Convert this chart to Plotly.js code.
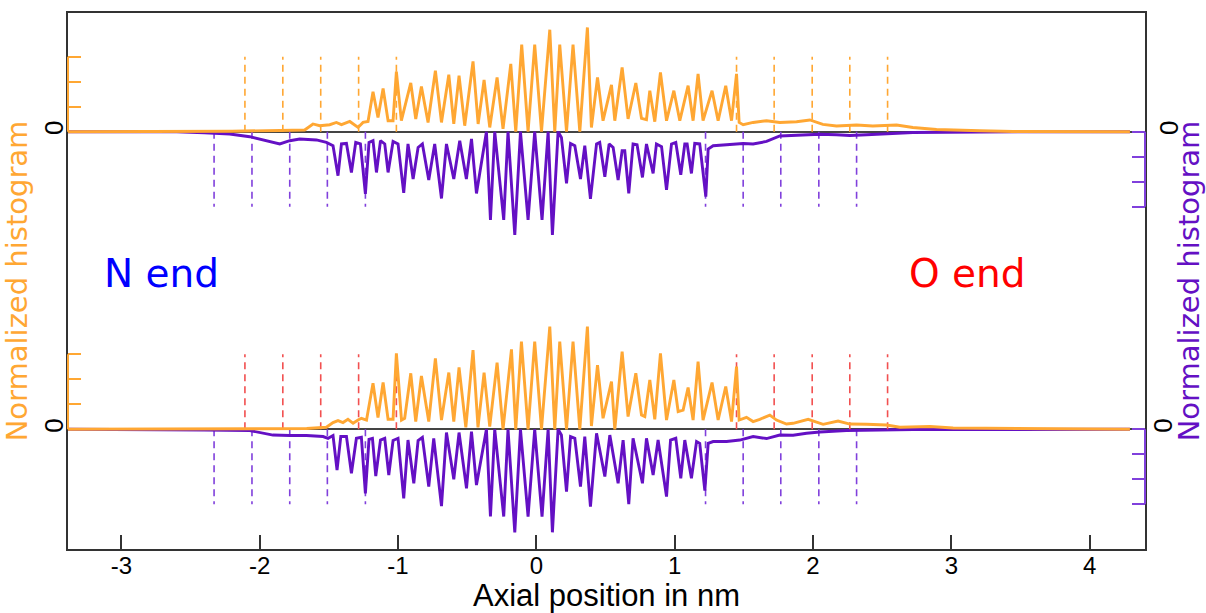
<!DOCTYPE html>
<html>
<head>
<meta charset="utf-8">
<script src="https://cdn.plot.ly/plotly-3.0.1.min.js"></script>
<style>html,body{margin:0;padding:0;background:#fff;}#chart{width:1206px;height:613px;}</style>
</head>
<body>
<div id="chart"></div>
<script>
// ---- data (x in nm, y in axis tick units) ----
const xTicks = [-3, -2, -1, 0, 1, 2, 3, 4];
const xTickText = ['-3', '-2', '-1', '0', '1', '2', '3', '4'];
const histTicks = [0, 1, 2, 3];
const histTickText = ['0', '', '', ''];

const orangeTop = [
[-3.39,0],[-2.5,0],[-2.2,0.02],[-1.855,0.05],[-1.675,0.07],[-1.615,0.31],[-1.566,0.24],[-1.494,0.28],
[-1.446,0.37],[-1.409,0.28],[-1.349,0.41],[-1.289,0.17],[-1.253,0.37],[-1.217,0.41],[-1.181,1.60],
[-1.145,0.57],[-1.108,1.73],[-1.072,0.44],[-1.036,0.44],[-1.012,2.40],[-0.976,0.44],[-0.908,1.95],
[-0.872,0.51],[-0.831,1.81],[-0.783,0.37],[-0.730,2.44],[-0.686,0.37],[-0.633,2.28],[-0.597,0.31],
[-0.559,2.24],[-0.518,0.24],[-0.458,2.81],[-0.421,0.31],[-0.378,2.07],[-0.337,0.17],[-0.284,2.17],
[-0.241,0.11],[-0.185,2.71],[-0.149,0],[-0.106,3.48],[-0.060,0],[-0.012,3.48],[0.037,0],[0.097,4.08],
[0.133,0],[0.169,3.48],[0.218,0],[0.265,3.48],[0.314,0],[0.369,4.17],[0.398,0.17],[0.442,2.17],
[0.482,0.44],[0.543,1.87],[0.567,0.44],[0.620,2.57],[0.663,0.51],[0.719,1.95],[0.760,0.53],[0.796,0.48],
[0.820,1.64],[0.856,0.40],[0.897,2.37],[0.941,0.44],[0.994,1.64],[1.037,0.44],[1.097,1.84],[1.133,0.44],
[1.169,2.31],[1.205,0.44],[1.270,1.64],[1.314,0.44],[1.369,1.84],[1.411,0.44],[1.447,2.31],[1.466,0.37],
[1.495,0.28],[1.567,0.37],[1.664,0.44],[1.760,0.37],[1.881,0.40],[1.977,0.47],[2.071,0.29],[2.170,0.23],
[2.315,0.27],[2.432,0.23],[2.604,0.27],[2.722,0.17],[2.893,0.09],[3.206,0.04],[3.445,0.01],[4.291,0]
];

const purpleTop = [
[-3.39,0],[-2.6,0],[-2.4,0.04],[-2.217,0.09],[-2.072,0.20],[-1.855,0.49],[-1.783,0.36],[-1.711,0.29],
[-1.590,0.33],[-1.518,0.43],[-1.470,0.56],[-1.434,1.76],[-1.409,0.49],[-1.373,0.47],[-1.337,1.63],
[-1.306,0.43],[-1.272,0.49],[-1.236,2.49],[-1.210,0.43],[-1.181,0.36],[-1.156,1.63],[-1.127,0.36],
[-1.096,0.49],[-1.072,1.63],[-1.036,0.39],[-1.000,0.49],[-0.959,2.45],[-0.928,0.49],[-0.891,1.89],
[-0.855,0.63],[-0.824,0.49],[-0.778,1.93],[-0.735,0.49],[-0.686,2.67],[-0.650,0.49],[-0.597,1.89],
[-0.554,0.36],[-0.506,1.89],[-0.469,0.29],[-0.433,2.47],[-0.361,0],[-0.332,3.53],[-0.301,0],[-0.236,3.53],
[-0.205,0],[-0.156,4.13],[-0.115,0],[-0.060,3.53],[-0.012,0],[0.041,3.53],[0.085,0],[0.116,4.13],
[0.157,0],[0.181,0.23],[0.218,2.07],[0.247,0.47],[0.278,0.56],[0.319,1.89],[0.350,0.56],[0.391,2.69],
[0.435,0.49],[0.458,0.43],[0.495,1.80],[0.526,0.49],[0.555,0.63],[0.591,1.93],[0.620,0.76],[0.639,0.76],
[0.668,2.47],[0.699,0.49],[0.728,0.52],[0.767,1.83],[0.796,0.49],[0.844,1.67],[0.868,0.49],[0.905,0.60],
[0.941,2.33],[0.977,0.49],[1.008,0.43],[1.044,1.72],[1.073,0.49],[1.090,0.49],[1.121,1.67],[1.145,0.47],
[1.181,0.49],[1.225,2.60],[1.242,0.69],[1.278,0.56],[1.375,0.52],[1.495,0.47],[1.567,0.49],[1.664,0.39],
[1.760,0.17],[1.905,0.13],[2.049,0.10],[2.170,0.12],[2.266,0.15],[2.387,0.12],[2.555,0.07],[2.722,0.03],
[3.206,0.01],[4.291,0]
];

const orangeBot = [
[-3.39,0],[-1.9,0],[-1.66,0.03],[-1.518,0.08],[-1.470,0.27],[-1.434,0.35],[-1.398,0.27],[-1.362,0.40],
[-1.325,0.24],[-1.289,0.37],[-1.265,0.44],[-1.228,0.37],[-1.181,1.84],[-1.145,0.47],[-1.108,1.87],
[-1.072,0.40],[-1.036,0.40],[-1.012,3.04],[-0.975,0.37],[-0.952,0.44],[-0.908,2.24],[-0.872,0.31],
[-0.831,2.13],[-0.778,0.31],[-0.730,2.84],[-0.686,0.37],[-0.633,2.27],[-0.597,0.31],[-0.559,2.48],
[-0.510,0.08],[-0.458,3.17],[-0.422,0.08],[-0.378,2.27],[-0.337,0.11],[-0.284,2.67],[-0.241,0],
[-0.180,3.20],[-0.149,0],[-0.108,3.51],[-0.060,0],[-0.012,3.51],[0.037,0],[0.097,4.11],[0.133,0],
[0.169,3.51],[0.218,0],[0.265,3.51],[0.314,0],[0.369,4.11],[0.398,0.13],[0.442,2.57],[0.482,0.44],
[0.543,1.91],[0.567,0],[0.620,3.11],[0.663,0.51],[0.719,2.24],[0.760,0.57],[0.784,0.51],[0.820,1.97],
[0.856,0.40],[0.897,3.04],[0.941,0.37],[0.994,1.97],[1.025,0.71],[1.061,0.77],[1.097,1.67],[1.133,0.37],
[1.169,2.71],[1.205,0.37],[1.270,1.87],[1.314,0.37],[1.369,1.71],[1.411,0.31],[1.447,2.51],[1.466,0.37],
[1.519,0.48],[1.567,0.31],[1.615,0.40],[1.688,0.57],[1.736,0.37],[1.808,0.21],[1.856,0.24],[1.965,0.40],
[2.073,0.20],[2.181,0.33],[2.266,0.21],[2.387,0.20],[2.531,0.17],[2.628,0.08],[2.845,0.11],[3.013,0.05],
[3.447,0.03],[4.291,0]
];

const purpleBot = [
[-3.39,0],[-2.8,0],[-2.4,0.03],[-2.072,0.05],[-1.904,0.23],[-1.783,0.25],[-1.662,0.25],[-1.542,0.29],
[-1.506,0.36],[-1.470,0.25],[-1.441,1.63],[-1.414,0.29],[-1.373,0.29],[-1.337,1.76],[-1.301,0.36],
[-1.265,0.32],[-1.236,2.56],[-1.210,0.40],[-1.185,0.36],[-1.161,1.87],[-1.127,0.43],[-1.096,0.36],
[-1.067,1.83],[-1.036,0.45],[-1.000,0.36],[-0.959,2.76],[-0.928,0.43],[-0.886,2.16],[-0.855,0.45],
[-0.824,0.32],[-0.778,2.29],[-0.742,0.36],[-0.686,3.07],[-0.650,0.13],[-0.597,2.00],[-0.559,0.13],
[-0.505,2.36],[-0.469,0.09],[-0.433,2.23],[-0.361,0],[-0.332,3.49],[-0.301,0],[-0.236,3.49],[-0.205,0],
[-0.156,4.12],[-0.115,0],[-0.060,3.49],[-0.012,0],[0.041,3.49],[0.085,0],[0.116,4.12],[0.157,0],
[0.181,0.23],[0.218,2.49],[0.247,0.29],[0.278,0.36],[0.319,2.29],[0.350,0.29],[0.391,3.09],[0.435,0.16],
[0.495,1.89],[0.531,0.23],[0.591,2.16],[0.627,0.43],[0.668,2.99],[0.699,0.36],[0.767,2.16],[0.796,0.36],
[0.844,1.83],[0.880,0.43],[0.941,2.69],[0.970,0.43],[1.008,0.36],[1.044,1.96],[1.073,0.43],[1.121,1.96],
[1.158,0.49],[1.181,0.56],[1.218,2.45],[1.242,0.56],[1.278,0.49],[1.375,0.49],[1.471,0.43],[1.567,0.29],
[1.664,0.37],[1.760,0.23],[1.856,0.24],[1.953,0.16],[2.049,0.11],[2.242,0.05],[2.387,0.03],[2.724,0.01],
[4.291,0]
];

const dashOrangeX = [-2.107, -1.833, -1.559, -1.285, -1.012, 1.447, 1.719, 1.994, 2.266, 2.539];
const dashPurpleX = [-2.330, -2.056, -1.783, -1.511, -1.236, 1.223, 1.495, 1.767, 2.042, 2.315];
const dashHeight = 3;

// ---- styles ----
const ORANGE = '#FFA733';
const PURPLE = '#6410C4';
const PURPLE_LIGHT = '#8040DC';
const RED = '#F25050';
const FRAME = '#333333';

function xs(a){ return a.map(p => p[0]); }
function ys(a){ return a.map(p => p[1]); }
function dashes(xv, h){
  const X = [], Y = [];
  xv.forEach(v => { X.push(v, v, null); Y.push(0, h, null); });
  return {X, Y};
}

const dO = dashes(dashOrangeX, dashHeight);
const dP = dashes(dashPurpleX, dashHeight);
const dashStyle = '7px,5px';
const LW = 2.9;

// axes: y = top purple (base), y2 = bottom purple, y3 = top orange, y4 = bottom orange
const traces = [
  {x: dP.X, y: dP.Y, yaxis: 'y', mode: 'lines', line: {color: PURPLE_LIGHT, width: 1.6, dash: dashStyle}, hoverinfo: 'skip'},
  {x: xs(purpleTop), y: ys(purpleTop), yaxis: 'y', mode: 'lines', line: {color: PURPLE, width: LW}},
  {x: dP.X, y: dP.Y, yaxis: 'y2', mode: 'lines', line: {color: PURPLE_LIGHT, width: 1.6, dash: dashStyle}, hoverinfo: 'skip'},
  {x: xs(purpleBot), y: ys(purpleBot), yaxis: 'y2', mode: 'lines', line: {color: PURPLE, width: LW}},
  {x: dO.X, y: dO.Y, yaxis: 'y3', mode: 'lines', line: {color: ORANGE, width: 1.6, dash: dashStyle}, hoverinfo: 'skip'},
  {x: xs(orangeTop), y: ys(orangeTop), yaxis: 'y3', mode: 'lines', line: {color: ORANGE, width: LW}},
  {x: dO.X, y: dO.Y, yaxis: 'y4', mode: 'lines', line: {color: RED, width: 1.6, dash: dashStyle}, hoverinfo: 'skip'},
  {x: xs(orangeBot), y: ys(orangeBot), yaxis: 'y4', mode: 'lines', line: {color: ORANGE, width: LW}}
];

const tickFont = {family: 'Liberation Sans, Arial, sans-serif', size: 24, color: '#000'};
const yTickFont = {family: 'Liberation Sans, Arial, sans-serif', size: 26, color: '#000'};
const yCommon = {
  tickmode: 'array', tickvals: histTicks, ticktext: histTickText,
  ticks: 'inside', ticklen: 13, tickwidth: 2, tickangle: -90,
  showgrid: false, showline: false, fixedrange: true, tickfont: yTickFont
};

const layout = {
  width: 1206, height: 613,
  margin: {l: 68, r: 61, t: 13, b: 64},
  paper_bgcolor: '#fff', plot_bgcolor: '#fff',
  showlegend: false,
  xaxis: {
    range: [-3.386, 4.40], tickmode: 'array', tickvals: xTicks, ticktext: xTickText,
    ticks: 'inside', ticklen: 14, tickwidth: 2, tickcolor: FRAME,
    ticklabelstandoff: -6,
    showgrid: false, zeroline: false, showline: true, mirror: true,
    linecolor: FRAME, linewidth: 2, tickfont: tickFont,
    title: {text: 'Axial position in nm', font: {family: 'Liberation Sans, Arial, sans-serif', size: 31, color: '#000'}, standoff: 4}
  },
  yaxis: Object.assign({}, yCommon, {
    range: [16.692, -4.748], side: 'right', tickcolor: PURPLE_LIGHT,
    ticklabelstandoff: 0,
    zeroline: true, zerolinecolor: '#444', zerolinewidth: 2,
    showline: true, mirror: true, linecolor: FRAME, linewidth: 2,
    title: {text: 'Normalized histogram', font: {family: 'DejaVu Sans, sans-serif', size: 29, color: PURPLE}, standoff: 6}
  }),
  yaxis2: Object.assign({}, yCommon, {
    range: [4.788, -16.652], side: 'right', overlaying: 'y', tickcolor: PURPLE_LIGHT,
    ticklabelstandoff: 0,
    zeroline: true, zerolinecolor: '#444', zerolinewidth: 2
  }),
  yaxis3: Object.assign({}, yCommon, {
    range: [-16.692, 4.748], side: 'left', overlaying: 'y', tickcolor: ORANGE,
    ticklabelstandoff: -1, zeroline: false,
    title: {text: 'Normalized histogram', font: {family: 'DejaVu Sans, sans-serif', size: 29, color: ORANGE}, standoff: 3}
  }),
  yaxis4: Object.assign({}, yCommon, {
    range: [-4.788, 16.652], side: 'left', overlaying: 'y', tickcolor: ORANGE,
    ticklabelstandoff: -1, zeroline: false
  }),
  shapes: [
    {type: 'line', xref: 'paper', x0: 1, x1: 1, yref: 'y', y0: 0, y1: 3, line: {color: PURPLE_LIGHT, width: 2}},
    {type: 'line', xref: 'paper', x0: 1, x1: 1, yref: 'y2', y0: 0, y1: 3, line: {color: PURPLE_LIGHT, width: 2}},
    {type: 'line', xref: 'paper', x0: 0, x1: 0, yref: 'y3', y0: 0, y1: 3, line: {color: ORANGE, width: 2}},
    {type: 'line', xref: 'paper', x0: 0, x1: 0, yref: 'y4', y0: 0, y1: 3, line: {color: ORANGE, width: 2}}
  ],
  annotations: [
    {text: 'N end', x: -2.711, y: -5.69, xref: 'x', yref: 'y3', showarrow: false,
     font: {family: 'DejaVu Sans, sans-serif', size: 39, color: '#0000FF'}},
    {text: 'O end', x: 3.116, y: -5.69, xref: 'x', yref: 'y3', showarrow: false,
     font: {family: 'DejaVu Sans, sans-serif', size: 39, color: '#FF0000'}}
  ]
};

Plotly.newPlot('chart', traces, layout, {staticPlot: true, displayModeBar: false});
</script>
</body>
</html>
